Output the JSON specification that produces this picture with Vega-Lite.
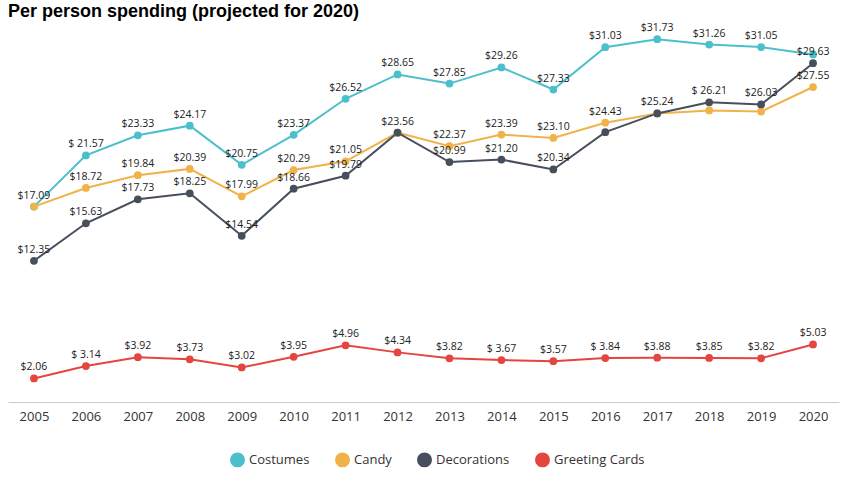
{
  "$schema": "https://vega.github.io/schema/vega-lite/v6.json",
  "width": 855,
  "height": 481,
  "autosize": {"type": "fit", "contains": "padding"},
  "padding": {"left": 8, "right": 16, "top": 6, "bottom": 58},
  "background": "white",
  "title": {
    "text": "Per person spending (projected for 2020)",
    "anchor": "start",
    "font": "Liberation Sans",
    "fontSize": 18,
    "fontWeight": "bold",
    "color": "black",
    "offset": 2
  },
  "config": {
    "view": {"stroke": null},
    "font": "Open Sans"
  },
  "data": {
    "values": [
      {"year": "2005", "series": "Costumes", "v": 17.09, "label": ""},
      {"year": "2006", "series": "Costumes", "v": 21.57, "label": "$ 21.57"},
      {"year": "2007", "series": "Costumes", "v": 23.33, "label": "$23.33"},
      {"year": "2008", "series": "Costumes", "v": 24.17, "label": "$24.17"},
      {"year": "2009", "series": "Costumes", "v": 20.75, "label": "$20.75"},
      {"year": "2010", "series": "Costumes", "v": 23.37, "label": "$23.37"},
      {"year": "2011", "series": "Costumes", "v": 26.52, "label": "$26.52"},
      {"year": "2012", "series": "Costumes", "v": 28.65, "label": "$28.65"},
      {"year": "2013", "series": "Costumes", "v": 27.85, "label": "$27.85"},
      {"year": "2014", "series": "Costumes", "v": 29.26, "label": "$29.26"},
      {"year": "2015", "series": "Costumes", "v": 27.33, "label": "$27.33"},
      {"year": "2016", "series": "Costumes", "v": 31.03, "label": "$31.03"},
      {"year": "2017", "series": "Costumes", "v": 31.73, "label": "$31.73"},
      {"year": "2018", "series": "Costumes", "v": 31.26, "label": "$31.26"},
      {"year": "2019", "series": "Costumes", "v": 31.05, "label": "$31.05"},
      {"year": "2020", "series": "Costumes", "v": 30.4, "label": ""},
      {"year": "2005", "series": "Candy", "v": 17.09, "label": "$17.09"},
      {"year": "2006", "series": "Candy", "v": 18.72, "label": "$18.72"},
      {"year": "2007", "series": "Candy", "v": 19.84, "label": "$19.84"},
      {"year": "2008", "series": "Candy", "v": 20.39, "label": "$20.39"},
      {"year": "2009", "series": "Candy", "v": 17.99, "label": "$17.99"},
      {"year": "2010", "series": "Candy", "v": 20.29, "label": "$20.29"},
      {"year": "2011", "series": "Candy", "v": 21.05, "label": "$21.05"},
      {"year": "2012", "series": "Candy", "v": 23.56, "label": ""},
      {"year": "2013", "series": "Candy", "v": 22.37, "label": "$22.37"},
      {"year": "2014", "series": "Candy", "v": 23.39, "label": "$23.39"},
      {"year": "2015", "series": "Candy", "v": 23.1, "label": "$23.10"},
      {"year": "2016", "series": "Candy", "v": 24.43, "label": "$24.43"},
      {"year": "2017", "series": "Candy", "v": 25.24, "label": ""},
      {"year": "2018", "series": "Candy", "v": 25.5, "label": ""},
      {"year": "2019", "series": "Candy", "v": 25.4, "label": ""},
      {"year": "2020", "series": "Candy", "v": 27.55, "label": "$27.55"},
      {"year": "2005", "series": "Decorations", "v": 12.35, "label": "$12.35"},
      {"year": "2006", "series": "Decorations", "v": 15.63, "label": "$15.63"},
      {"year": "2007", "series": "Decorations", "v": 17.73, "label": "$17.73"},
      {"year": "2008", "series": "Decorations", "v": 18.25, "label": "$18.25"},
      {"year": "2009", "series": "Decorations", "v": 14.54, "label": "$14.54"},
      {"year": "2010", "series": "Decorations", "v": 18.66, "label": "$18.66"},
      {"year": "2011", "series": "Decorations", "v": 19.79, "label": "$19.79"},
      {"year": "2012", "series": "Decorations", "v": 23.56, "label": "$23.56"},
      {"year": "2013", "series": "Decorations", "v": 20.99, "label": "$20.99"},
      {"year": "2014", "series": "Decorations", "v": 21.2, "label": "$21.20"},
      {"year": "2015", "series": "Decorations", "v": 20.34, "label": "$20.34"},
      {"year": "2016", "series": "Decorations", "v": 23.6, "label": ""},
      {"year": "2017", "series": "Decorations", "v": 25.24, "label": "$25.24"},
      {"year": "2018", "series": "Decorations", "v": 26.21, "label": "$ 26.21"},
      {"year": "2019", "series": "Decorations", "v": 26.03, "label": "$26.03"},
      {"year": "2020", "series": "Decorations", "v": 29.63, "label": "$29.63"},
      {"year": "2005", "series": "Greeting Cards", "v": 2.06, "label": "$2.06"},
      {"year": "2006", "series": "Greeting Cards", "v": 3.14, "label": "$ 3.14"},
      {"year": "2007", "series": "Greeting Cards", "v": 3.92, "label": "$3.92"},
      {"year": "2008", "series": "Greeting Cards", "v": 3.73, "label": "$3.73"},
      {"year": "2009", "series": "Greeting Cards", "v": 3.02, "label": "$3.02"},
      {"year": "2010", "series": "Greeting Cards", "v": 3.95, "label": "$3.95"},
      {"year": "2011", "series": "Greeting Cards", "v": 4.96, "label": "$4.96"},
      {"year": "2012", "series": "Greeting Cards", "v": 4.34, "label": "$4.34"},
      {"year": "2013", "series": "Greeting Cards", "v": 3.82, "label": "$3.82"},
      {"year": "2014", "series": "Greeting Cards", "v": 3.67, "label": "$ 3.67"},
      {"year": "2015", "series": "Greeting Cards", "v": 3.57, "label": "$3.57"},
      {"year": "2016", "series": "Greeting Cards", "v": 3.84, "label": "$ 3.84"},
      {"year": "2017", "series": "Greeting Cards", "v": 3.88, "label": "$3.88"},
      {"year": "2018", "series": "Greeting Cards", "v": 3.85, "label": "$3.85"},
      {"year": "2019", "series": "Greeting Cards", "v": 3.82, "label": "$3.82"},
      {"year": "2020", "series": "Greeting Cards", "v": 5.03, "label": "$5.03"}
    ]
  },
  "encoding": {
    "x": {
      "field": "year",
      "type": "ordinal",
      "scale": {"type": "point", "padding": 0.5},
      "axis": {"title": null, "labelAngle": 0, "labelFontSize": 13, "labelColor": "#333", "domainColor": "#ccc", "tickColor": "#ccc", "tickSize": 0, "labelPadding": 8}
    },
    "y": {
      "field": "v",
      "type": "quantitative",
      "scale": {"domain": [0, 32.8], "nice": false},
      "axis": null
    },
    "color": {
      "field": "series",
      "type": "nominal",
      "sort": ["Costumes", "Candy", "Decorations", "Greeting Cards"],
      "scale": {
        "domain": ["Costumes", "Candy", "Decorations", "Greeting Cards"],
        "range": ["#4cbfcc", "#f1b24a", "#474f5c", "#e5453f"]
      },
      "legend": {
        "title": null,
        "orient": "none",
        "legendX": 222,
        "legendY": 425,
        "direction": "horizontal",
        "symbolType": "circle",
        "symbolSize": 180,
        "symbolOpacity": 1,
        "labelFontSize": 13,
        "labelColor": "#333",
        "columnPadding": 22
      }
    }
  },
  "layer": [
    {"mark": {"type": "line", "strokeWidth": 2}},
    {"mark": {"type": "point", "filled": true, "size": 60, "opacity": 1}},
    {
      "mark": {"type": "text", "dy": -11, "fontSize": 10.5, "color": "#222"},
      "encoding": {"text": {"field": "label"}, "color": {"value": "#222"}}
    }
  ]
}
